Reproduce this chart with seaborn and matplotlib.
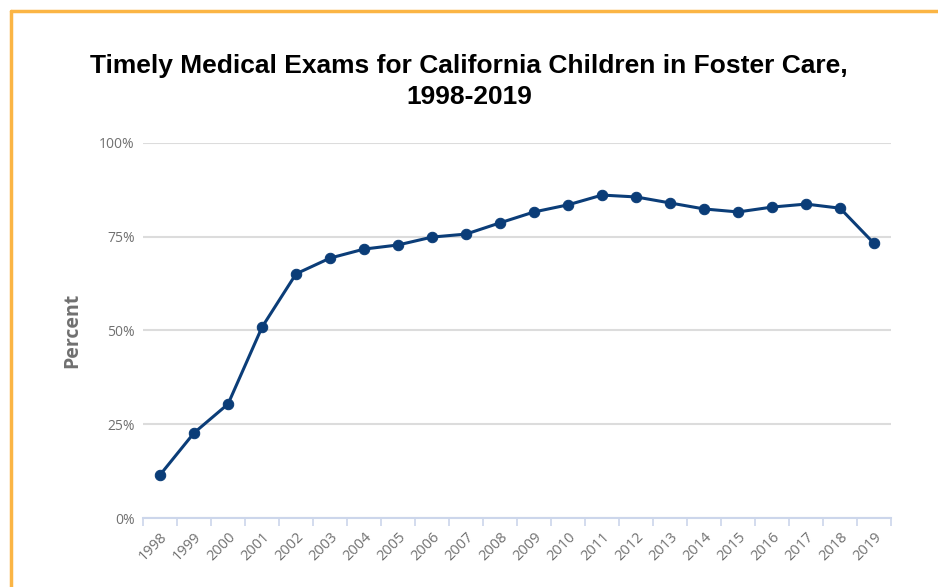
import pandas as pd
import matplotlib.pyplot as plt
import seaborn as sns
from matplotlib.lines import Line2D
from matplotlib.ticker import FixedLocator, FuncFormatter

years = [str(y) for y in range(1998, 2020)]
percent = [11.5, 22.7, 30.4, 50.9, 65.1, 69.3, 71.7, 72.8, 74.9, 75.7, 78.7,
           81.6, 83.5, 86.1, 85.6, 84.0, 82.4, 81.6, 82.9, 83.7, 82.6, 73.2]
y_ticks = [0, 25, 50, 75, 100]

df = pd.DataFrame({"Year": years, "Percent": percent})

sns.set_theme(style="white")
plt.rcParams["font.family"] = ["Open Sans", "DejaVu Sans"]

fig = plt.figure(figsize=(9.38, 5.87), dpi=100)
ax = fig.add_axes([0.1525, 0.1175, 0.7975, 0.639])

navy = "#0b3d78"
sns.lineplot(data=df, x="Year", y="Percent", ax=ax, color=navy, linewidth=2.2,
             marker="o", markersize=7.5, markeredgecolor=navy, sort=False)

ax.set_xlim(-0.5, len(years) - 0.5)
ax.set_ylim(0, 100)
ax.set_yticks(y_ticks)
ax.yaxis.set_major_formatter(FuncFormatter(lambda v, p: f"{int(v)}%"))
ax.grid(axis="y", color="#dcdcdc", linewidth=1.5)
ax.set_axisbelow(True)

for s in ["top", "right", "left"]:
    ax.spines[s].set_visible(False)
ax.spines["bottom"].set_color("#ccd6eb")
ax.spines["bottom"].set_linewidth(1.5)

# ticks sit on the boundaries between years
ax.xaxis.set_minor_locator(FixedLocator([i - 0.5 for i in range(len(years) + 1)]))
ax.tick_params(axis="x", which="minor", bottom=True, length=6, width=1.2, color="#ccd6eb")
ax.tick_params(axis="x", which="major", bottom=False, length=0, pad=8)
ax.tick_params(axis="y", length=0, pad=6)

for lbl in ax.get_xticklabels():
    lbl.set_rotation(45)
    lbl.set_ha("right")
    lbl.set_rotation_mode("anchor")
    lbl.set_fontsize(10.5)
    lbl.set_color("#707070")
for lbl in ax.get_yticklabels():
    lbl.set_fontsize(10)
    lbl.set_color("#707070")

ax.set_xlabel("")
ax.set_ylabel("Percent", fontsize=14, fontweight="bold", color="#707070", labelpad=12)

fig.text(0.5, 0.861, "Timely Medical Exams for California Children in Foster Care,\n1998-2019",
         ha="center", va="center", fontsize=19, fontweight="bold",
         family=["Liberation Sans", "DejaVu Sans"], linespacing=1.35, color="black")

orange = "#fbb545"
fig.add_artist(Line2D([11 / 938, 1], [1 - 11 / 587] * 2, color=orange, linewidth=2.5,
                      transform=fig.transFigure))
fig.add_artist(Line2D([11 / 938] * 2, [0, 1 - 11 / 587], color=orange, linewidth=2.5,
                      transform=fig.transFigure))

fig.savefig("out.png", dpi=100)
